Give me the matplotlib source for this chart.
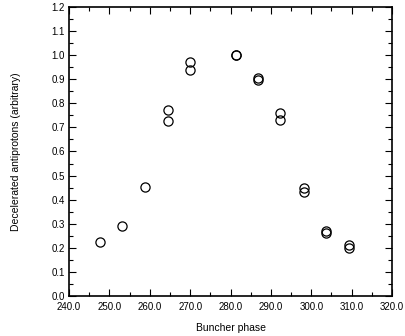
import numpy as np
import matplotlib.pyplot as plt
from matplotlib.ticker import MultipleLocator, FormatStrFormatter

plt.rcParams['font.family'] = ['Liberation Sans', 'DejaVu Sans']

# buncher phase settings and decelerated antiproton yield
phase = [247.6, 253.1, 258.7, 264.4, 264.4, 270.0, 270.0, 281.3, 281.3,
         286.9, 286.9, 292.3, 292.3, 298.1, 298.1, 303.6, 303.6, 309.3, 309.3]
yield_ = [0.223, 0.291, 0.453, 0.772, 0.727, 0.970, 0.940, 1.000, 0.999,
          0.905, 0.898, 0.761, 0.729, 0.447, 0.431, 0.271, 0.260, 0.211, 0.201]

fig = plt.figure(figsize=(4.05, 3.36), dpi=100)
ax = fig.add_axes([69 / 405, 40 / 336, 323 / 405, 289 / 336])

ax.plot(phase, yield_, 'o', mfc='none', mec='black', ms=6.6, mew=0.9)

ax.set_xlim(240, 320)
ax.set_ylim(0, 1.2)
ax.xaxis.set_major_locator(MultipleLocator(10))
ax.xaxis.set_minor_locator(MultipleLocator(5))
ax.yaxis.set_major_locator(MultipleLocator(0.1))
ax.yaxis.set_minor_locator(MultipleLocator(0.05))
ax.xaxis.set_major_formatter(FormatStrFormatter('%.1f'))
ax.yaxis.set_major_formatter(FormatStrFormatter('%.1f'))
ax.tick_params(which='both', direction='in', top=True, right=True,
               labelsize=7, width=0.8)
ax.tick_params(which='major', length=5)
ax.tick_params(axis='x', which='major', pad=4.5)
ax.tick_params(axis='y', which='major', pad=3)
ax.tick_params(which='minor', length=3)
for s in ax.spines.values():
    s.set_linewidth(1.2)

ax.set_xlabel('Buncher phase', fontsize=7.5, labelpad=8)
ax.set_ylabel('Decelerated antiprotons (arbitrary)', fontsize=7.5, labelpad=22)

fig.savefig('out.png', dpi=100)
